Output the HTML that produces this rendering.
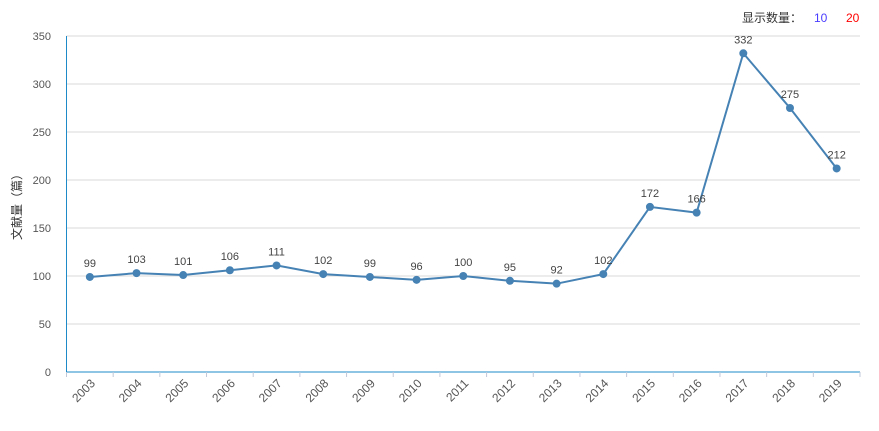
<!DOCTYPE html>
<html><head><meta charset="utf-8"><style>
body{margin:0;background:#fff;}
svg{display:block;font-family:"Liberation Sans","Noto Sans CJK SC",sans-serif;}
</style></head><body>
<svg id="c" width="879" height="431">
<text x="742" y="22" font-size="12" fill="#333">显示数量：</text>
<text x="814" y="22" font-size="12" fill="#4a3cff">10</text>
<text x="846" y="22" font-size="12" fill="#ff0000">20</text>
<text transform="translate(21,204) rotate(-90)" text-anchor="middle" font-size="12" fill="#333">文献量（篇）</text>
<g id="grid"></g><g id="xa"></g><g id="series"></g>
</svg>
<script>
const categories=["2003","2004","2005","2006","2007","2008","2009","2010","2011","2012","2013","2014","2015","2016","2017","2018","2019"];
const values=[99,103,101,106,111,102,99,96,100,95,92,102,172,166,332,275,212];
const yTicks=[0,50,100,150,200,250,300,350];
const NS="http://www.w3.org/2000/svg";
const L=66.5,R=860,T=36,B=372,ymax=350;
const bw=(R-L)/categories.length;
const x=i=>L+bw*(i+0.5);
const y=v=>B-(v/ymax)*(B-T);
function mk(tag,attrs,parent,txt){const e=document.createElementNS(NS,tag);for(const k in attrs)e.setAttribute(k,attrs[k]);if(txt!==undefined)e.textContent=txt;parent.appendChild(e);return e;}
const g=document.getElementById('grid'),xa=document.getElementById('xa'),s=document.getElementById('series');
yTicks.forEach(t=>{
 if(t>0){const l=mk('line',{x1:L,x2:R,y1:y(t),y2:y(t),stroke:'#d9d9d9'},g);
 
 }
 const tx=mk('text',{x:51,y:y(t)+4,'text-anchor':'end','font-size':11,fill:'#555'},g,t);
 
 
});
const ya=mk('line',{x1:L,x2:L,y1:T,y2:B,stroke:'#1e8ac8'},xa);


const xl=mk('line',{x1:L,x2:R,y1:B,y2:B,stroke:'#1e8ac8'},xa);


for(let i=0;i<=categories.length;i++){const tk=mk('line',{x1:L+bw*i,x2:L+bw*i,y1:B,y2:B+5,stroke:'#c0c8d8'},xa);
 
 }
categories.forEach((c,i)=>{
 const t=mk('text',{transform:`translate(${x(i)+6},${B+12}) rotate(-45)`,'text-anchor':'end','font-size':12,fill:'#555'},xa,c);
 
 
});
const p=mk('polyline',{points:values.map((v,i)=>x(i)+','+y(v)).join(' '),fill:'none',stroke:'#4682b4','stroke-width':2},s);


values.forEach((v,i)=>{
 const c=mk('circle',{cx:x(i),cy:y(v),r:4,fill:'#4682b4'},s);
 
 
 const ly=y(v)-10<T+5?y(v)+16:y(v)-10;
 const t=mk('text',{x:x(i),y:ly,'text-anchor':'middle','font-size':11,fill:'#444'},s,v);
 
 
});
</script>
</body></html>
